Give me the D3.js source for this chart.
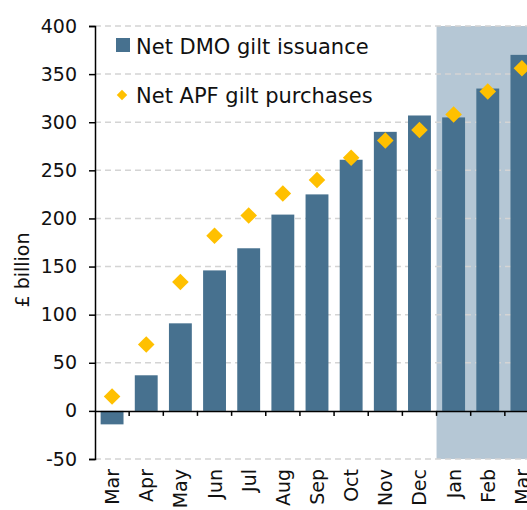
<!DOCTYPE html>
<html>
<head>
<meta charset="utf-8">
<script src="https://cdn.jsdelivr.net/npm/d3@7"></script>
<style>
  body { margin: 0; background: #fff; }
  text { font-family: "DejaVu Sans", sans-serif; fill: #111; }
</style>
</head>
<body>
<script>
let months = ["Mar", "Apr", "May", "Jun", "Jul", "Aug", "Sep", "Oct", "Nov", "Dec", "Jan", "Feb", "Mar2"];
let dmoIssuance = [-14, 37, 91, 146, 169, 204, 225, 261, 290, 307, 305, 335, 370];
let apfPurchases = [15, 69, 134, 182, 203, 226, 240, 263, 281, 292, 308, 332, 356];
let yTicks = [-50, 0, 50, 100, 150, 200, 250, 300, 350, 400];
let shadedFrom = "Jan";

let width = 527, height = 510;

let svg = d3.select("body").append("svg")
    .attr("width", width)
    .attr("height", height);

let x = d3.scaleBand()
    .domain(months)
    .range([95, 539])
    .paddingInner(0.33)
    .paddingOuter(0.165);

let y = d3.scaleLinear()
    .domain([-50, 400])
    .range([459, 26]);

let step = x.step();
let gap = step * 0.33 / 2;

// forecast shading
let shadeX = x(shadedFrom) - gap;
svg.append("rect")
    .attr("x", shadeX)
    .attr("y", y(400))
    .attr("width", width - shadeX)
    .attr("height", y(-50) - y(400))
    .attr("fill", "#b5c7d5");

// gridlines
svg.append("g")
    .selectAll("line")
    .data(yTicks.filter(d => d !== 0))
    .enter().append("line")
    .attr("x1", 95).attr("x2", width)
    .attr("y1", d => y(d)).attr("y2", d => y(d))
    .attr("stroke", "#d4d4d4")
    .attr("stroke-width", 1.5)
    .attr("stroke-dasharray", "6,4");

// bars
svg.append("g")
    .selectAll("rect")
    .data(dmoIssuance)
    .enter().append("rect")
    .attr("x", (d, i) => x(months[i]))
    .attr("width", x.bandwidth())
    .attr("y", d => y(Math.max(0, d)))
    .attr("height", d => Math.abs(y(d) - y(0)))
    .attr("fill", "#47718f");

// zero line with ticks at band edges
let xAxis = svg.append("g")
    .attr("transform", `translate(0, ${y(0)})`)
    .call(d3.axisBottom(x).tickSize(0).tickFormat(""));
xAxis.select(".domain").attr("stroke", "#000").attr("stroke-width", 1.5);
svg.append("g")
    .selectAll("line")
    .data(months.slice(1))
    .enter().append("line")
    .attr("x1", d => x(d) - gap)
    .attr("x2", d => x(d) - gap)
    .attr("y1", y(0)).attr("y2", y(0) + 5)
    .attr("stroke", "#000")
    .attr("stroke-width", 1.5);

// diamonds
svg.append("g")
    .selectAll("path")
    .data(apfPurchases)
    .enter().append("path")
    .attr("d", d3.symbol(d3.symbolDiamond2, 175))
    .attr("transform", (d, i) => `translate(${x(months[i]) + x.bandwidth() / 2}, ${y(d)})`)
    .attr("fill", "#ffc000");

// y axis
let yAxis = svg.append("g")
    .attr("transform", "translate(95, 0)")
    .call(d3.axisLeft(y).tickValues(yTicks).tickSize(6).tickPadding(12)
        .tickFormat(d => String(d)));
yAxis.select(".domain").attr("stroke", "#000").attr("stroke-width", 1.5);
yAxis.selectAll(".tick line").attr("stroke", "#000").attr("stroke-width", 1.5);
yAxis.selectAll(".tick text")
    .style("font-size", "19px")
    .style("font-family", "'DejaVu Sans', sans-serif")
    .attr("fill", "#111");

// x labels
svg.append("g")
    .selectAll("text")
    .data(months)
    .enter().append("text")
    .attr("transform", d => `translate(${x(d) + x.bandwidth() / 2 + 7}, 469) rotate(-90)`)
    .attr("text-anchor", "end")
    .style("font-size", "19px")
    .text(d => d.replace("2", ""));

// y title
svg.append("text")
    .attr("transform", "translate(29, 270) rotate(-90)")
    .attr("text-anchor", "middle")
    .style("font-size", "19px")
    .text("£ billion");

// legend
svg.append("rect")
    .attr("x", 116).attr("y", 38)
    .attr("width", 14).attr("height", 14)
    .attr("fill", "#47718f");
svg.append("text")
    .attr("x", 136).attr("y", 54)
    .style("font-size", "21px")
    .text("Net DMO gilt issuance");
svg.append("path")
    .attr("d", d3.symbol(d3.symbolDiamond2, 70))
    .attr("transform", "translate(122, 95)")
    .attr("fill", "#ffc000");
svg.append("text")
    .attr("x", 136).attr("y", 103)
    .style("font-size", "21px")
    .text("Net APF gilt purchases");
</script>
</body>
</html>
